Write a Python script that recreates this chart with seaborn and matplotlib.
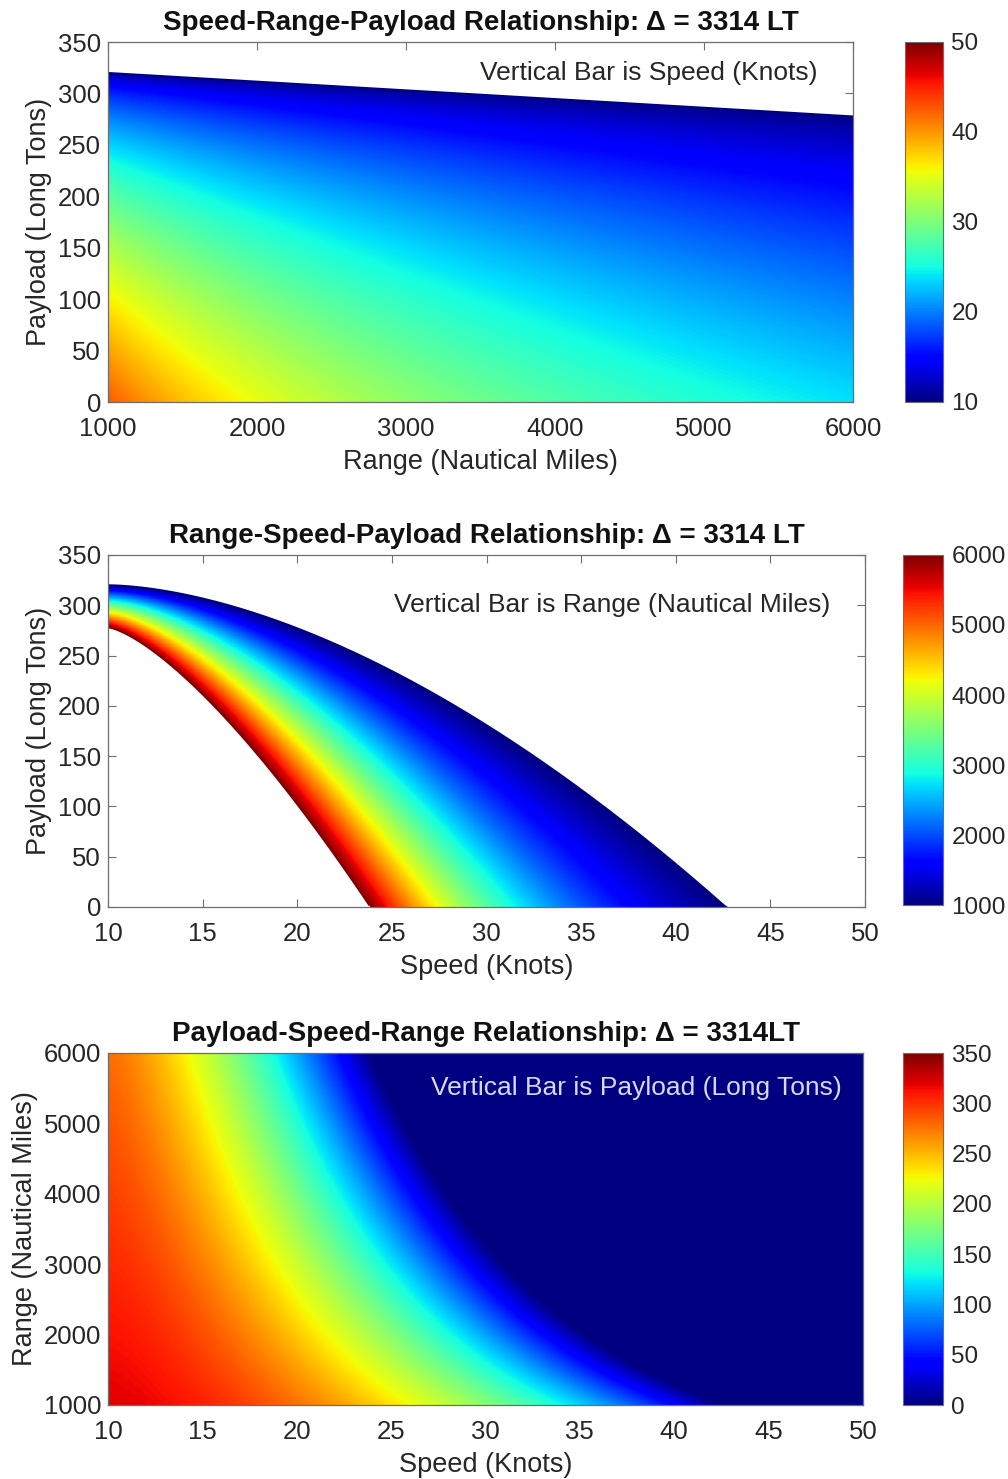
import numpy as np
import pandas as pd
import matplotlib
matplotlib.use("Agg")
import matplotlib.pyplot as plt
import seaborn as sns

# ---- values read for the design (full-load displacement 3314 LT) ----
RANGE_LEVELS = np.array([1000, 2000, 3000, 4000, 5000, 6000])        # nautical miles
PAYLOAD_AT_10KN = np.array([320, 312, 303, 295, 286, 278])          # long tons at the minimum speed
ZERO_PAYLOAD_SPEED = np.array([42.7, 35.2, 31.0, 28.0, 25.7, 23.8])  # knots where payload reaches 0
CURVE_EXPONENT = np.array([1.70, 1.64, 1.58, 1.52, 1.46, 1.40])     # shape of payload-speed curve
MIN_SPEED = 10.0

SPEED_TICKS = [10, 15, 20, 25, 30, 35, 40, 45, 50]
RANGE_TICKS = [1000, 2000, 3000, 4000, 5000, 6000]
PAYLOAD_TICKS = [0, 50, 100, 150, 200, 250, 300, 350]
SPEED_BAR_TICKS = [10, 20, 30, 40, 50]

TITLES = [
    "Speed-Range-Payload Relationship: \u0394 = 3314 LT",
    "Range-Speed-Payload Relationship: \u0394 = 3314 LT",
    "Payload-Speed-Range Relationship: \u0394 = 3314LT",
]
NOTES = [
    "Vertical Bar is Speed (Knots)",
    "Vertical Bar is Range (Nautical Miles)",
    "Vertical Bar is Payload (Long Tons)",
]

# smooth trends through the tabulated values
p10_fit = np.polyfit(RANGE_LEVELS, PAYLOAD_AT_10KN, 1)
v0_fit = np.polyfit(np.log(RANGE_LEVELS), np.log(ZERO_PAYLOAD_SPEED), 2)
m_fit = np.polyfit(RANGE_LEVELS, CURVE_EXPONENT, 1)


def curve_params(rng):
    p10 = np.polyval(p10_fit, rng)
    v0 = np.exp(np.polyval(v0_fit, np.log(rng)))
    m = np.polyval(m_fit, rng)
    return p10, v0, m


def payload_at(speed, rng):
    p10, v0, m = curve_params(rng)
    s = np.clip((speed - MIN_SPEED) / (v0 - MIN_SPEED), 0, None)
    return p10 * (1.0 - s ** m)


def speed_for(payload, rng):
    p10, v0, m = curve_params(rng)
    frac = 1.0 - payload / p10
    out = MIN_SPEED + np.power(np.clip(frac, 0, None), 1.0 / m) * (v0 - MIN_SPEED)
    return np.where(frac < 0, np.nan, out)


def range_for(speed, payload):
    lo = np.full(np.broadcast(speed, payload).shape, np.log(1000.0))
    hi = np.full_like(lo, np.log(6000.0))
    ok = (payload_at(speed, 1000.0) >= payload) & (payload_at(speed, 6000.0) <= payload)
    for _ in range(40):
        mid = 0.5 * (lo + hi)
        above = payload_at(speed, np.exp(mid)) > payload
        lo = np.where(above, mid, lo)
        hi = np.where(above, hi, mid)
    return np.where(ok, np.exp(0.5 * (lo + hi)), np.nan)


def centers(a, b, n):
    e = np.linspace(a, b, n + 1)
    return 0.5 * (e[:-1] + e[1:])


NX, NY = 1100, 800
# panel 1: speed over (range, payload)
R1, P1 = np.meshgrid(centers(1000, 6000, NX), centers(0, 350, NY))
field1 = speed_for(P1, R1)
# panel 2: range over (speed, payload)
S2, P2 = np.meshgrid(centers(10, 50, NX), centers(0, 350, NY))
field2 = range_for(S2, P2)
# panel 3: payload over (speed, range)
S3, R3 = np.meshgrid(centers(10, 50, NX), centers(1000, 6000, NY))
field3 = np.clip(payload_at(S3, R3), 0, None)

# edges of the feasible regions (drawn as thin outlines)
edge_r = np.linspace(1000, 6000, 200)
edge1 = [(edge_r, np.polyval(p10_fit, edge_r), (0.0, 0.0, 0.5))]
v_lo = np.linspace(10, ZERO_PAYLOAD_SPEED[0], 300)
v_hi = np.linspace(10, ZERO_PAYLOAD_SPEED[-1], 300)
edge2 = [(v_lo, np.clip(payload_at(v_lo, 1000.0), 0, None), (0.0, 0.0, 0.5)),
         (v_hi, np.clip(payload_at(v_hi, 6000.0), 0, None), (0.5, 0.0, 0.0))]

sns.set_style("ticks")
plt.rcParams["font.family"] = ["Liberation Sans", "DejaVu Sans"]

TXT = "#262626"
EDGE = "#6e6e6e"
fig = plt.figure(figsize=(10.08, 14.79), dpi=100)


def draw_panel(ax_rect, cax_rect, field, xlim, ylim, xticks, yticks, vmin, vmax,
               cticks, title, xlabel, ylabel, note, note_xy, note_color, edges=()):
    ax = fig.add_axes(ax_rect)
    cax = fig.add_axes(cax_rect)
    ny, nx = field.shape
    sns.heatmap(pd.DataFrame(field), ax=ax, cbar_ax=cax, cmap="jet",
                vmin=vmin, vmax=vmax, xticklabels=False, yticklabels=False,
                rasterized=True)

    def to_x(v):
        return (np.asarray(v, float) - xlim[0]) / (xlim[1] - xlim[0]) * nx

    def to_y(v):
        return (np.asarray(v, float) - ylim[0]) / (ylim[1] - ylim[0]) * ny

    for ex, ey, ec in edges:
        sns.lineplot(x=to_x(ex), y=to_y(ey), ax=ax, color=ec, linewidth=1.1,
                     sort=False, estimator=None, legend=False)

    ax.set_xlim(0, nx)
    ax.set_ylim(0, ny)
    ax.set_xticks(to_x(xticks))
    ax.set_xticklabels([str(t) for t in xticks])
    ax.set_yticks(to_y(yticks))
    ax.set_yticklabels([str(t) for t in yticks], rotation=0)
    for sp in ax.spines.values():
        sp.set_visible(True)
        sp.set_color(EDGE)
        sp.set_linewidth(0.9)
        sp.set_zorder(5)
    ax.tick_params(direction="in", length=6, width=0.8, top=True, right=True,
                   labelsize=18.5, colors=EDGE, labelcolor=TXT)
    ax.tick_params(axis="x", pad=11)
    ax.tick_params(axis="y", pad=5)
    ax.set_xlabel(xlabel, fontsize=19.5, color=TXT, labelpad=5.5, visible=True)
    ax.set_ylabel(ylabel, fontsize=19.5, color=TXT, labelpad=4, visible=True)
    ax.set_title(title, fontsize=20, fontweight="bold", color="#111111", pad=8.5)
    ax.text(note_xy[0], note_xy[1], note, transform=ax.transAxes, ha="right",
            va="center", fontsize=19, color=note_color)
    cbar = ax.collections[0].colorbar
    cbar.set_ticks(cticks)
    cbar.set_ticklabels([str(t) for t in cticks])
    cbar.ax.tick_params(direction="in", length=4, width=0.8, labelsize=17.5,
                        colors=EDGE, labelcolor=TXT, pad=6)
    cbar.outline.set_visible(True)
    cbar.outline.set_edgecolor(EDGE)
    cbar.outline.set_linewidth(0.8)
    return ax


H = 1479.0
W = 1008.0

draw_panel([108 / W, 1 - 402 / H, 745 / W, 360 / H],
           [905 / W, 1 - 402 / H, 38 / W, 360 / H],
           field1, (1000, 6000), (0, 350), RANGE_TICKS, PAYLOAD_TICKS, 10, 50,
           SPEED_BAR_TICKS, TITLES[0], "Range (Nautical Miles)",
           "Payload (Long Tons)", NOTES[0], (0.953, 0.914), TXT, edges=edge1)

draw_panel([108 / W, 1 - 907 / H, 757 / W, 352 / H],
           [903 / W, 1 - 905 / H, 40 / W, 350 / H],
           field2, (10, 50), (0, 350), SPEED_TICKS, PAYLOAD_TICKS, 1000, 6000,
           RANGE_TICKS, TITLES[1], "Speed (Knots)",
           "Payload (Long Tons)", NOTES[1], (0.954, 0.858), TXT, edges=edge2)

draw_panel([108 / W, 1 - 1405 / H, 755 / W, 352 / H],
           [903 / W, 1 - 1405 / H, 40 / W, 352 / H],
           field3, (10, 50), (1000, 6000), SPEED_TICKS, RANGE_TICKS, 0, 350,
           PAYLOAD_TICKS, TITLES[2], "Speed (Knots)",
           "Range (Nautical Miles)", NOTES[2], (0.972, 0.90), "#d8d8f0")

fig.savefig("out.png", dpi=100)
